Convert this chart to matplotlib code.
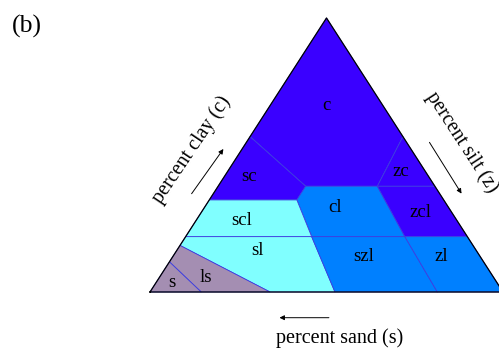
import numpy as np
import matplotlib.pyplot as plt

plt.rcParams['font.family'] = ['Liberation Serif', 'DejaVu Serif']

# soil texture classes, vertices as (percent sand, percent clay)
poly_c = [(0, 100), (43.3, 56.7), (36.6, 38.6), (16.3, 38.6), (0, 56.7)]
poly_sc = [(43.3, 56.7), (36.6, 38.6), (41.6, 33.6), (66.4, 33.6)]
poly_zc = [(0, 56.7), (16.3, 38.6), (0, 38.6)]
poly_cl = [(36.6, 38.6), (16.3, 38.6), (17.7, 20.2), (44.1, 20.2), (41.6, 33.6)]
poly_scl = [(66.4, 33.6), (41.6, 33.6), (44.1, 20.2), (79.8, 20.2)]
poly_zcl = [(16.3, 38.6), (0, 38.6), (0, 20.2), (17.7, 20.2)]
poly_sl = [(79.8, 20.2), (44.1, 20.2), (47.6, 0), (66.0, 0), (83.0, 17.0)]
poly_szl = [(44.1, 20.2), (17.7, 20.2), (18.6, 0), (47.6, 0)]
poly_zl = [(17.7, 20.2), (0, 20.2), (0, 0), (18.6, 0)]
poly_ls = [(83.0, 17.0), (66.0, 0), (85.5, 0), (89.0, 11.0)]
poly_s = [(89.0, 11.0), (85.5, 0), (100, 0)]

class_names = ['c', 'sc', 'zc', 'cl', 'scl', 'zcl', 'sl', 'szl', 'zl', 'ls', 's']
class_polys = [poly_c, poly_sc, poly_zc, poly_cl, poly_scl, poly_zcl,
               poly_sl, poly_szl, poly_zl, poly_ls, poly_s]

# where each class name is written (percent sand, percent clay)
label_sand = [16, 51, 7, 32, 61, 9, 62, 33, 11, 81.5, 92]
label_clay = [68, 42, 44, 31, 26, 29, 15, 13, 13, 5.4, 3.4]

violet = '#3a00ff'
blue = '#0080ff'
cyan = '#80ffff'
mauve = '#a48eb2'
class_colors = [violet, violet, violet, blue, cyan, violet,
                cyan, blue, blue, mauve, mauve]

H = 274 / 353  # height of triangle relative to its base, as drawn


def tern(sand, clay):
    s = np.asarray(sand, dtype=float) / 100
    c = np.asarray(clay, dtype=float) / 100
    z = 1 - s - c
    return z + c / 2, c * H


fig = plt.figure(figsize=(4.99, 3.49), dpi=100)
ax = fig.add_axes([0, 0, 1, 1])
ax.set_xlim(-150 / 353, 349 / 353)
ax.set_ylim(-57 / 353, 292 / 353)
ax.axis('off')

for poly, col in zip(class_polys, class_colors):
    sand = [p[0] for p in poly]
    clay = [p[1] for p in poly]
    x, y = tern(sand, clay)
    ax.fill(x, y, facecolor=col, edgecolor='#3c3ce0', linewidth=0.6)

# outline of the triangle
x, y = tern([100, 0, 0, 100], [0, 0, 100, 0])
ax.plot(x, y, color='black', linewidth=0.9)

for name, s, c in zip(class_names, label_sand, label_clay):
    x, y = tern(s, c)
    ax.text(x, y, name, fontsize=13.5, ha='center', va='center')

# axis names with arrows
arrow = dict(arrowstyle='-|>', color='black', lw=0.7, mutation_scale=7)
ax.annotate('', xy=(0.2125, 0.4116), xytext=(0.1133, 0.272), arrowprops=arrow)
ax.annotate('', xy=(0.8867, 0.272), xytext=(0.7875, 0.4306), arrowprops=arrow)
ax.annotate('', xy=(0.3589, -0.0728), xytext=(0.5147, -0.0728), arrowprops=arrow)

ax.text(0.118, 0.402, 'percent clay (c)', fontsize=14.5, rotation=56,
        ha='center', va='center', rotation_mode='anchor')
ax.text(0.884, 0.425, 'percent silt (z)', fontsize=14.5, rotation=-57,
        ha='center', va='center', rotation_mode='anchor')
ax.text(0.538, -0.130, 'percent sand (s)', fontsize=14.5,
        ha='center', va='center')

fig.text(12 / 499, 1 - 26.5 / 349, '(b)', fontsize=18.5, ha='left', va='center')

fig.savefig('out.png', dpi=100)
